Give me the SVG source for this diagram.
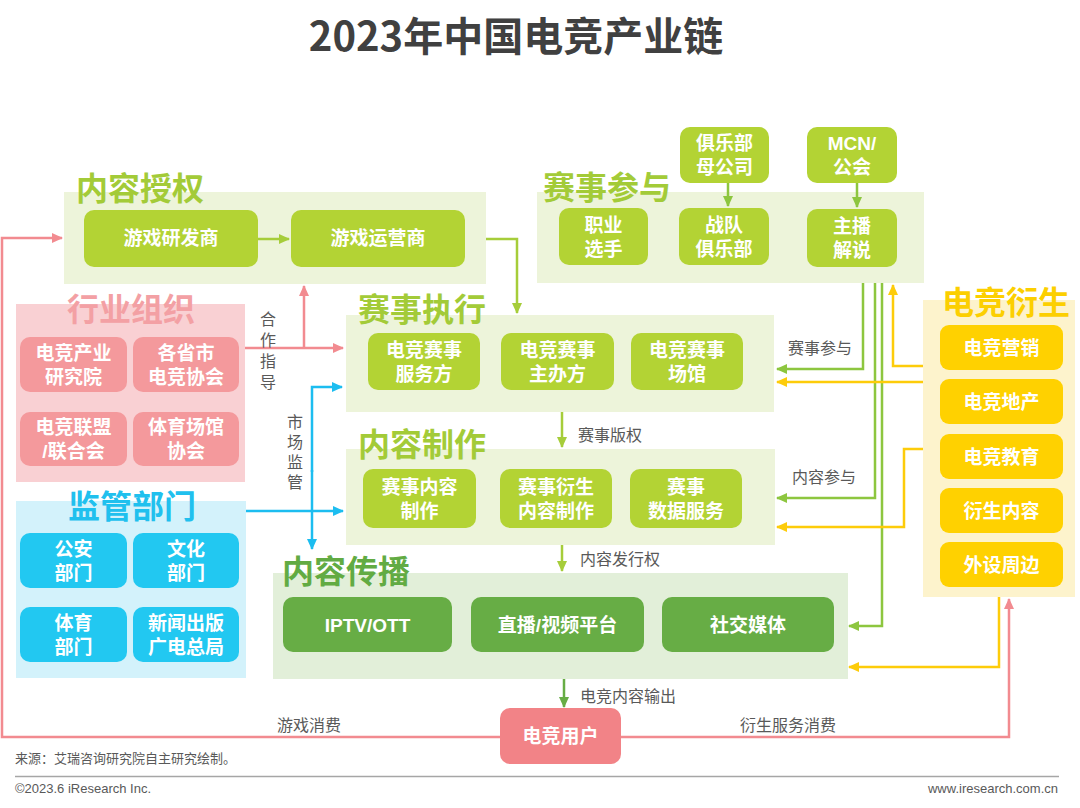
<svg xmlns="http://www.w3.org/2000/svg" width="1080" height="808" viewBox="0 0 1080 808">
<defs>
<style>
text{font-family:"Liberation Sans","Noto Sans CJK SC",sans-serif}
.nt{font-size:19px;font-weight:bold;fill:#fff;text-anchor:middle;dominant-baseline:central}
.tt{font-size:32px;font-weight:bold}
.lb{font-size:16px;fill:#595959}
.lime-bg{fill:#edf4da}
.lime-n{fill:#b3d334}
.lime-t{fill:#a3cb38}
.dk-bg{fill:#e2efd9}
.dk-n{fill:#67ad45}
.dk-t{fill:#62ab43}
.pk-bg{fill:#f9d0d3}
.pk-n{fill:#f4999c}
.pk-t{fill:#f3a0a4}
.bl-bg{fill:#d3f2fb}
.bl-n{fill:#22c8f1}
.bl-t{fill:#20c0ee}
.yl-bg{fill:#fdf3cc}
.yl-n{fill:#ffd100}
.yl-t{fill:#fccf00}
.c{fill:none;stroke-width:2.5}
.cl{stroke:#a6cd3a}
.cg{stroke:#8dc63f}
.cd{stroke:#67ad45}
.cp{stroke:#f28b90}
.cb{stroke:#1cbdf0}
.cy{stroke:#fdcc0a}
</style>
<marker id="al" markerWidth="12" markerHeight="12" refX="10" refY="6" orient="auto" markerUnits="userSpaceOnUse"><path d="M0,1 L11,6 L0,11 Z" fill="#a6cd3a"/></marker>
<marker id="ag" markerWidth="12" markerHeight="12" refX="10" refY="6" orient="auto" markerUnits="userSpaceOnUse"><path d="M0,1 L11,6 L0,11 Z" fill="#8dc63f"/></marker>
<marker id="ad" markerWidth="12" markerHeight="12" refX="10" refY="6" orient="auto" markerUnits="userSpaceOnUse"><path d="M0,1 L11,6 L0,11 Z" fill="#67ad45"/></marker>
<marker id="ap" markerWidth="12" markerHeight="12" refX="10" refY="6" orient="auto" markerUnits="userSpaceOnUse"><path d="M0,1 L11,6 L0,11 Z" fill="#f28b90"/></marker>
<marker id="ab" markerWidth="12" markerHeight="12" refX="10" refY="6" orient="auto" markerUnits="userSpaceOnUse"><path d="M0,1 L11,6 L0,11 Z" fill="#1cbdf0"/></marker>
<marker id="ay" markerWidth="12" markerHeight="12" refX="10" refY="6" orient="auto" markerUnits="userSpaceOnUse"><path d="M0,1 L11,6 L0,11 Z" fill="#fdcc0a"/></marker>
</defs>
<rect width="1080" height="808" fill="#fff"/>
<text x="516" y="51" text-anchor="middle" style="font-size:40px;font-weight:bold;fill:#404040;font-family:'Noto Sans CJK SC',sans-serif">2023年中国电竞产业链</text>

<!-- background groups -->
<g id="grp-license">
<rect class="lime-bg" x="64" y="192" width="422" height="92"/>
<text class="tt lime-t" x="76" y="200">内容授权</text>
</g>
<g id="grp-participate">
<rect class="lime-bg" x="537" y="192" width="387" height="91"/>
<text class="tt lime-t" x="543" y="199">赛事参与</text>
</g>
<g id="grp-industry">
<rect class="pk-bg" x="16" y="304" width="229" height="178"/>
<text class="tt pk-t" x="67" y="321">行业组织</text>
</g>
<g id="grp-regulator">
<rect class="bl-bg" x="16" y="501" width="230" height="177"/>
<text class="tt bl-t" x="68" y="518">监管部门</text>
</g>
<g id="grp-execution">
<rect class="lime-bg" x="346" y="315" width="428" height="97"/>
<text class="tt lime-t" x="358" y="321">赛事执行</text>
</g>
<g id="grp-production">
<rect class="lime-bg" x="346" y="449" width="429" height="96"/>
<text class="tt lime-t" x="358" y="456">内容制作</text>
</g>
<g id="grp-distribution">
<rect class="dk-bg" x="273" y="573" width="575" height="106"/>
<text class="tt dk-t" x="282" y="583">内容传播</text>
</g>
<g id="grp-derivative">
<rect class="yl-bg" x="923" y="300" width="152" height="297"/>
<text class="tt yl-t" x="942" y="314">电竞衍生</text>
</g>

<!-- connectors -->
<g id="connectors">
<path class="c cl" d="M258,239 H289" marker-end="url(#al)"/>
<path class="c cl" d="M486,239 H517 V313" marker-end="url(#al)"/>
<path class="c cl" d="M562,412 V447" marker-end="url(#al)"/>
<path class="c cl" d="M562,545 V571" marker-end="url(#al)"/>
<path class="c cd" d="M564,679 V707" marker-end="url(#ad)"/>
<path class="c cg" d="M728,183 V206" marker-end="url(#ag)"/>
<path class="c cg" d="M857,183 V207" marker-end="url(#ag)"/>
<path class="c cp" d="M245,348 H343" marker-end="url(#ap)"/>
<path class="c cp" d="M304,348 V286" marker-end="url(#ap)"/>
<path class="c cb" d="M246,511 H343" marker-end="url(#ab)"/>
<path class="c cb" d="M312,470 V549" marker-end="url(#ab)"/>
<path class="c cb" d="M312,472 V387 H342" marker-end="url(#ab)"/>
<path class="c cp" d="M502,737 H2 V238 H62" marker-end="url(#ap)"/>
<path class="c cp" d="M621,737 H1009 V599" marker-end="url(#ap)"/>
<path class="c cg" d="M863,283 V369 H777" marker-end="url(#ag)"/>
<path class="c cg" d="M875,283 V498 H777" marker-end="url(#ag)"/>
<path class="c cg" d="M882,283 V626 H849" marker-end="url(#ag)"/>
<path class="c cy" d="M923,366 H893 V285" marker-end="url(#ay)"/>
<path class="c cy" d="M923,382 H777" marker-end="url(#ay)"/>
<path class="c cy" d="M923,449 H904 V527 H777" marker-end="url(#ay)"/>
<path class="c cy" d="M999,597 V667 H849" marker-end="url(#ay)"/>
<text class="lb" x="578" y="441">赛事版权</text>
<text class="lb" x="580" y="565">内容发行权</text>
<text class="lb" x="580" y="702">电竞内容输出</text>
<text class="lb" x="788" y="354">赛事参与</text>
<text class="lb" x="792" y="483">内容参与</text>
<text class="lb" x="277" y="731">游戏消费</text>
<text class="lb" x="740" y="731">衍生服务消费</text>
<text class="lb" text-anchor="middle"><tspan x="268" y="325">合</tspan><tspan x="268" y="346">作</tspan><tspan x="268" y="367">指</tspan><tspan x="268" y="388">导</tspan></text>
<text class="lb" text-anchor="middle"><tspan x="295" y="428">市</tspan><tspan x="295" y="448">场</tspan><tspan x="295" y="468">监</tspan><tspan x="295" y="488">管</tspan></text>
</g>

<!-- nodes -->
<g id="n-dev"><rect class="lime-n" x="84" y="210" width="174" height="57" rx="10"/><text class="nt" x="171" y="238.5">游戏研发商</text></g>
<g id="n-op"><rect class="lime-n" x="291" y="210" width="174" height="57" rx="10"/><text class="nt" x="378" y="238.5">游戏运营商</text></g>

<g id="n-parent"><rect class="lime-n" x="680" y="127" width="89" height="56" rx="10"/><text class="nt"><tspan x="724.5" y="143">俱乐部</tspan><tspan x="724.5" y="167">母公司</tspan></text></g>
<g id="n-mcn"><rect class="lime-n" x="807" y="127" width="90" height="56" rx="10"/><text class="nt"><tspan x="852" y="143">MCN/</tspan><tspan x="852" y="167">公会</tspan></text></g>
<g id="n-pro"><rect class="lime-n" x="559" y="208" width="89" height="57" rx="10"/><text class="nt"><tspan x="603.5" y="225">职业</tspan><tspan x="603.5" y="249">选手</tspan></text></g>
<g id="n-club"><rect class="lime-n" x="679" y="208" width="90" height="57" rx="10"/><text class="nt"><tspan x="724" y="225">战队</tspan><tspan x="724" y="249">俱乐部</tspan></text></g>
<g id="n-caster"><rect class="lime-n" x="807" y="209" width="90" height="58" rx="10"/><text class="nt"><tspan x="852" y="226">主播</tspan><tspan x="852" y="250">解说</tspan></text></g>

<g id="n-inst"><rect class="pk-n" x="20" y="337" width="107" height="55" rx="10"/><text class="nt"><tspan x="73.5" y="353">电竞产业</tspan><tspan x="73.5" y="377">研究院</tspan></text></g>
<g id="n-assoc"><rect class="pk-n" x="133" y="337" width="106" height="55" rx="10"/><text class="nt"><tspan x="186" y="353">各省市</tspan><tspan x="186" y="377">电竞协会</tspan></text></g>
<g id="n-league"><rect class="pk-n" x="20" y="412" width="107" height="54" rx="10"/><text class="nt"><tspan x="73.5" y="427">电竞联盟</tspan><tspan x="73.5" y="451">/联合会</tspan></text></g>
<g id="n-venue-assoc"><rect class="pk-n" x="133" y="412" width="106" height="54" rx="10"/><text class="nt"><tspan x="186" y="427">体育场馆</tspan><tspan x="186" y="451">协会</tspan></text></g>

<g id="n-police"><rect class="bl-n" x="20" y="533" width="107" height="55" rx="10"/><text class="nt"><tspan x="73.5" y="549">公安</tspan><tspan x="73.5" y="573">部门</tspan></text></g>
<g id="n-culture"><rect class="bl-n" x="133" y="533" width="106" height="55" rx="10"/><text class="nt"><tspan x="186" y="549">文化</tspan><tspan x="186" y="573">部门</tspan></text></g>
<g id="n-sport"><rect class="bl-n" x="20" y="607" width="107" height="55" rx="10"/><text class="nt"><tspan x="73.5" y="623">体育</tspan><tspan x="73.5" y="647">部门</tspan></text></g>
<g id="n-press"><rect class="bl-n" x="133" y="607" width="106" height="55" rx="10"/><text class="nt"><tspan x="186" y="623">新闻出版</tspan><tspan x="186" y="647">广电总局</tspan></text></g>

<g id="n-service"><rect class="lime-n" x="368" y="333" width="112" height="57" rx="10"/><text class="nt"><tspan x="424" y="350">电竞赛事</tspan><tspan x="424" y="374">服务方</tspan></text></g>
<g id="n-host"><rect class="lime-n" x="501" y="333" width="113" height="57" rx="10"/><text class="nt"><tspan x="557.5" y="350">电竞赛事</tspan><tspan x="557.5" y="374">主办方</tspan></text></g>
<g id="n-venue"><rect class="lime-n" x="631" y="333" width="112" height="57" rx="10"/><text class="nt"><tspan x="687" y="350">电竞赛事</tspan><tspan x="687" y="374">场馆</tspan></text></g>

<g id="n-content"><rect class="lime-n" x="363" y="469" width="113" height="59" rx="10"/><text class="nt"><tspan x="419.5" y="487">赛事内容</tspan><tspan x="419.5" y="511">制作</tspan></text></g>
<g id="n-deriv-content"><rect class="lime-n" x="500" y="469" width="112" height="59" rx="10"/><text class="nt"><tspan x="556" y="487">赛事衍生</tspan><tspan x="556" y="511">内容制作</tspan></text></g>
<g id="n-data"><rect class="lime-n" x="630" y="469" width="112" height="59" rx="10"/><text class="nt"><tspan x="686" y="487">赛事</tspan><tspan x="686" y="511">数据服务</tspan></text></g>

<g id="n-iptv"><rect class="dk-n" x="283" y="597" width="169" height="55" rx="10"/><text class="nt" x="367.5" y="625">IPTV/OTT</text></g>
<g id="n-live"><rect class="dk-n" x="471" y="597" width="173" height="55" rx="10"/><text class="nt" x="557.5" y="625">直播/视频平台</text></g>
<g id="n-social"><rect class="dk-n" x="662" y="597" width="172" height="55" rx="10"/><text class="nt" x="748" y="625">社交媒体</text></g>

<g id="n-marketing"><rect class="yl-n" x="940" y="325" width="123" height="45" rx="9"/><text class="nt" x="1001.5" y="348">电竞营销</text></g>
<g id="n-estate"><rect class="yl-n" x="940" y="379" width="123" height="45" rx="9"/><text class="nt" x="1001.5" y="402">电竞地产</text></g>
<g id="n-edu"><rect class="yl-n" x="940" y="434" width="123" height="45" rx="9"/><text class="nt" x="1001.5" y="457">电竞教育</text></g>
<g id="n-dcontent"><rect class="yl-n" x="940" y="488" width="123" height="45" rx="9"/><text class="nt" x="1001.5" y="511">衍生内容</text></g>
<g id="n-periph"><rect class="yl-n" x="940" y="542" width="123" height="45" rx="9"/><text class="nt" x="1001.5" y="565">外设周边</text></g>

<g id="n-user"><rect fill="#f28387" x="500" y="708" width="121" height="56" rx="10"/><text class="nt" x="560.5" y="736">电竞用户</text></g>

<!-- footer -->
<text x="15" y="763" style="font-size:13px;fill:#595959">来源：艾瑞咨询研究院自主研究绘制。</text>
<line x1="15" y1="776.5" x2="1059" y2="776.5" stroke="#a6a6a6" stroke-width="1.5"/>
<text x="15" y="793" style="font-size:13px;fill:#595959">©2023.6 iResearch Inc.</text>
<text x="1058" y="793" text-anchor="end" style="font-size:13px;fill:#595959">www.iresearch.com.cn</text>
</svg>
